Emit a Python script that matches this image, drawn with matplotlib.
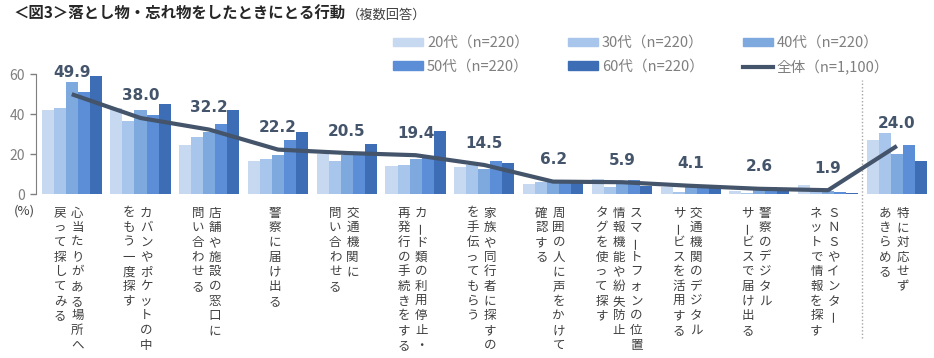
import matplotlib
matplotlib.use("Agg")
import matplotlib.pyplot as plt
from matplotlib.patches import Patch
from matplotlib.lines import Line2D
import numpy as np

plt.rcParams['font.family'] = ['Noto Sans CJK JP', 'DejaVu Sans']

# 行動（縦書きラベル：1行目が右側）
labels = [
    ["心当たりがある場所へ", "戻って探してみる"],
    ["カバンやポケットの中", "をもう一度探す"],
    ["店舗や施設の窓口に", "問い合わせる"],
    ["警察に届け出る"],
    ["交通機関に", "問い合わせる"],
    ["カード類の利用停止・", "再発行の手続きをする"],
    ["家族や同行者に探すの", "を手伝ってもらう"],
    ["周囲の人に声をかけて", "確認する"],
    ["スマートフォンの位置", "情報機能や紛失防止", "タグを使って探す"],
    ["交通機関のデジタル", "サービスを活用する"],
    ["警察のデジタル", "サービスで届け出る"],
    ["ＳＮＳやインター", "ネットで情報を探す"],
    ["特に対応せず", "あきらめる"],
]

series_names = ["20代（n=220）", "30代（n=220）", "40代（n=220）",
                "50代（n=220）", "60代（n=220）"]
age20 = [42.2, 43.0, 24.7, 16.3, 19.8, 14.0, 13.7, 4.8, 7.6, 3.4, 1.3, 4.6, 26.8]
age30 = [43.0, 36.7, 28.7, 17.5, 16.3, 14.5, 14.5, 5.9, 3.5, 0.9, 0.5, 2.0, 30.6]
age40 = [55.8, 42.0, 31.0, 19.5, 19.7, 17.3, 12.3, 6.2, 5.8, 3.6, 3.7, 1.3, 20.1]
age50 = [51.2, 39.3, 35.2, 27.0, 19.7, 18.0, 16.3, 6.5, 6.8, 4.0, 3.7, 0.9, 24.3]
age60 = [59.2, 44.8, 42.0, 31.0, 25.0, 31.5, 15.3, 6.6, 4.2, 4.0, 1.3, 0.4, 16.3]
total = [49.9, 38.0, 32.2, 22.2, 20.5, 19.4, 14.5, 6.2, 5.9, 4.1, 2.6, 1.9, 24.0]
total_name = "全体（n=1,100）"

colors = ["#C6D9F1", "#A8C6EC", "#7EA9DF", "#5B8ED6", "#3D6DB5"]
line_color = "#44546A"
gray = "#7F7F7F"
text_color = "#404040"

fig = plt.figure(figsize=(9.34, 3.58), dpi=100)
ax = fig.add_axes([36 / 934, 164 / 358, 898 / 934, 120 / 358])

x = np.arange(len(total))
bw = 0.175
for j, vals in enumerate([age20, age30, age40, age50, age60]):
    ax.bar(x + (j - 2) * bw, vals, width=bw, color=colors[j], zorder=2)

ax.plot(x, total, color=line_color, lw=3, zorder=3, solid_capstyle="butt")
for xi, v in zip(x, total):
    ax.text(xi, v + 11, f"{v:.1f}", ha="center", va="center", fontsize=11,
            fontweight="bold", color=line_color, family="DejaVu Sans",
            zorder=4)

ax.set_xlim(-0.52, len(total) - 0.46)
ax.set_ylim(0, 60)
ax.set_yticks([0, 20, 40, 60])
ax.set_xticks([])
ax.tick_params(axis="y", colors=gray, labelsize=10, length=4, width=1,
               direction="out", pad=4)
for s in ["top", "right", "bottom"]:
    ax.spines[s].set_visible(False)
ax.spines["left"].set_color(gray)

# 区切りの点線
ax.plot([11.5, 11.5], [-1.2, 0.95], transform=ax.get_xaxis_transform(),
        color="#A6A6A6", lw=1, ls=(0, (1, 1.5)), clip_on=False)

ax.annotate("(%)", xy=(0, 0), xycoords="axes fraction", xytext=(-12, -17),
            textcoords="offset pixels", ha="center", va="center",
            fontsize=9.5, color=text_color)

# 縦書きラベル
pitch = 14.7
col_gap = 17.2
for i, lines in enumerate(labels):
    n = len(lines)
    for k, line in enumerate(lines):
        dx = -3 + ((n - 1) / 2 - k) * col_gap
        for c, ch in enumerate(line):
            rot = 90 if ch in "ー－" else 0
            ax.annotate(ch, xy=(i, 0), xycoords=("data", "axes fraction"),
                        xytext=(dx, -19 - c * pitch),
                        textcoords="offset pixels", ha="center", va="center",
                        fontsize=9, color=text_color, rotation=rot)

# タイトル
fig.text(13 / 934, 1 - 14 / 358, "＜図3＞落とし物・忘れ物をしたときにとる行動",
         fontsize=11.1, fontweight="bold", color="#262626", va="center")
fig.text(347 / 934, 1 - 15 / 358, "（複数回答）", fontsize=9.5,
         color=text_color, va="center")

# 凡例（行ごとに並べる）
h = [Patch(color=c) for c in colors] + [Line2D([], [], color=line_color, lw=3)]
names = series_names + [total_name]
order = [0, 3, 1, 4, 2, 5]
fig.legend([h[o] for o in order], [names[o] for o in order], ncol=3,
           loc="upper left", bbox_to_anchor=(393 / 934, 1 - 36 / 358),
           frameon=False, fontsize=10.5, labelcolor=gray, borderpad=0,
           borderaxespad=0, handlelength=2.06, handleheight=0.48,
           handletextpad=0.27, columnspacing=2.68, labelspacing=0.66)

fig.savefig("out.png", dpi=100)
